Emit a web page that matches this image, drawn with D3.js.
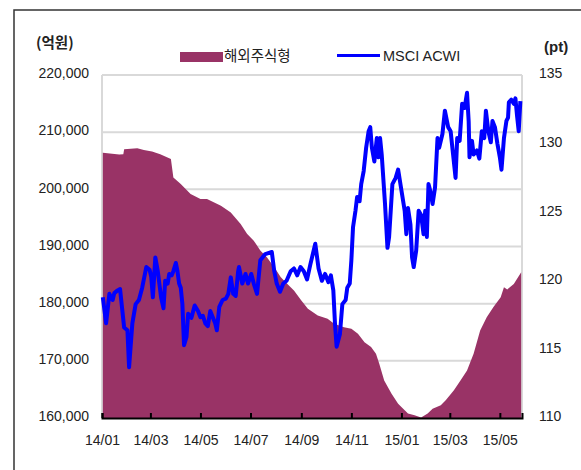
<!DOCTYPE html>
<html><head><meta charset="utf-8">
<script src="https://cdn.jsdelivr.net/npm/d3@7"></script>
<style>
html,body{margin:0;padding:0;background:#fff;}
svg{display:block;}
text{font-family:"Liberation Sans",Arial,sans-serif;fill:#222;}
.kr{font-family:"Noto Sans CJK KR","Liberation Sans",sans-serif;}
</style></head>
<body>
<svg id="chart" width="581" height="470"></svg>
<script>
// ---- data ----
const leftUnit = "(억원)";
const rightUnit = "(pt)";
const seriesNames = ["해외주식형", "MSCI ACWI"];
const xTickLabels = ["14/01","14/03","14/05","14/07","14/09","14/11","15/01","15/03","15/05"];
const leftTicks = [160000,170000,180000,190000,200000,210000,220000];
const rightTicks = [110,115,120,125,130,135];

// 해외주식형 (억원)
const fundSeries = [
["2014-01-02",206400],["2014-01-22",206100],["2014-01-27",206150],["2014-01-28",207030],["2014-02-13",207200],
["2014-02-21",206900],["2014-03-03",206600],["2014-03-13",206150],["2014-03-26",205300],["2014-03-29",202070],
["2014-04-07",200920],["2014-04-19",199170],["2014-05-01",198300],["2014-05-09",198300],["2014-05-26",197130],
["2014-06-07",195960],["2014-06-19",193930],["2014-06-27",192190],["2014-07-05",191020],["2014-07-13",189280],
["2014-07-21",188100],["2014-07-30",186360],["2014-08-07",184610],["2014-08-15",183460],["2014-08-23",182290],
["2014-09-01",180550],["2014-09-09",179100],["2014-09-21",177930],["2014-10-03",177350],["2014-10-11",176480],
["2014-10-23",175890],["2014-11-01",175600],["2014-11-09",174730],["2014-11-17",173270],["2014-11-25",172400],
["2014-12-01",171240],["2014-12-05",169500],["2014-12-11",166580],["2014-12-20",164260],["2014-12-28",162510],
["2015-01-05",161340],["2015-01-09",160770],["2015-01-17",160470],["2015-01-25",160100],["2015-02-02",160770],
["2015-02-08",161640],["2015-02-18",162220],["2015-02-24",163090],["2015-03-06",164840],["2015-03-14",166580],
["2015-03-22",168330],["2015-03-30",171240],["2015-04-07",175310],["2015-04-15",177630],["2015-04-23",179380],
["2015-05-02",181120],["2015-05-06",182870],["2015-05-10",182500],["2015-05-18",183460],["2015-05-27",185490]
];

// MSCI ACWI (pt)
const msciSeries = [
["2014-01-02",118.8],["2014-01-06",116.9],["2014-01-10",119.05],["2014-01-14",118.6],["2014-01-16",119.1],
["2014-01-20",119.3],["2014-01-23",119.4],["2014-01-28",116.6],["2014-02-01",116.4],["2014-02-03",113.7],
["2014-02-07",116.9],["2014-02-11",118.3],["2014-02-15",118.6],["2014-02-19",119.5],["2014-02-24",121.0],
["2014-02-28",120.8],["2014-03-02",120.3],["2014-03-04",118.8],["2014-03-07",121.7],["2014-03-10",120.7],
["2014-03-14",118.8],["2014-03-17",118.0],["2014-03-19",120.0],["2014-03-22",119.8],["2014-03-24",120.5],
["2014-03-27",120.4],["2014-03-29",120.7],["2014-04-01",121.3],["2014-04-03",120.7],["2014-04-05",119.8],
["2014-04-07",119.5],["2014-04-09",118.3],["2014-04-11",115.3],["2014-04-14",115.9],["2014-04-16",117.6],
["2014-04-20",117.3],["2014-04-24",118.2],["2014-04-28",117.8],["2014-05-01",117.35],["2014-05-04",117.45],
["2014-05-07",116.9],["2014-05-10",116.7],["2014-05-13",117.8],["2014-05-16",117.35],["2014-05-19",116.9],
["2014-05-21",116.4],["2014-05-24",118.1],["2014-05-28",118.6],["2014-06-01",118.7],["2014-06-04",119.05],
["2014-06-07",120.25],["2014-06-10",119.05],["2014-06-13",118.9],["2014-06-16",120.7],["2014-06-17",121.0],
["2014-06-21",119.8],["2014-06-25",120.5],["2014-06-28",119.8],["2014-07-02",120.5],["2014-07-05",119.8],
["2014-07-09",119.05],["2014-07-13",121.5],["2014-07-19",121.95],["2014-07-27",122.1],["2014-07-30",120.7],
["2014-08-02",119.8],["2014-08-06",119.2],["2014-08-10",119.8],["2014-08-14",120.0],["2014-08-19",120.7],
["2014-08-23",120.9],["2014-08-27",120.4],["2014-08-31",121.0],["2014-09-04",120.7],["2014-09-08",120.1],
["2014-09-12",121.2],["2014-09-18",122.7],["2014-09-22",120.9],["2014-09-26",120.0],["2014-09-30",120.5],
["2014-10-04",119.9],["2014-10-07",120.4],["2014-10-10",119.3],["2014-10-12",116.9],["2014-10-14",115.2],
["2014-10-18",116.1],["2014-10-21",118.3],["2014-10-25",118.6],["2014-10-27",119.5],["2014-10-30",119.8],
["2014-11-01",121.5],["2014-11-03",123.9],["2014-11-06",125.1],["2014-11-08",126.1],["2014-11-11",125.8],
["2014-11-13",127.05],["2014-11-16",128.0],["2014-11-19",129.7],["2014-11-22",130.9],["2014-11-24",131.2],
["2014-11-26",129.7],["2014-11-29",128.7],["2014-12-02",130.4],["2014-12-04",129.0],["2014-12-06",130.4],
["2014-12-08",129.2],["2014-12-12",125.6],["2014-12-15",122.4],["2014-12-17",123.2],["2014-12-21",127.05],
["2014-12-25",127.5],["2014-12-28",128.1],["2015-01-01",126.6],["2015-01-05",125.1],["2015-01-07",123.4],
["2015-01-09",125.3],["2015-01-12",124.1],["2015-01-14",121.7],["2015-01-16",121.0],["2015-01-19",122.2],
["2015-01-22",125.1],["2015-01-25",124.8],["2015-01-28",123.4],["2015-01-30",125.1],["2015-02-01",123.2],
["2015-02-03",127.05],["2015-02-05",126.6],["2015-02-08",125.6],["2015-02-11",126.8],["2015-02-14",130.4],
["2015-02-16",129.7],["2015-02-20",130.7],["2015-02-23",132.4],["2015-02-27",131.2],["2015-03-02",130.9],
["2015-03-05",129.2],["2015-03-08",127.5],["2015-03-10",130.4],["2015-03-13",130.2],["2015-03-16",132.9],
["2015-03-19",132.6],["2015-03-22",133.7],["2015-03-24",131.6],["2015-03-25",129.0],["2015-03-28",130.2],
["2015-03-30",129.2],["2015-04-03",129.5],["2015-04-06",128.9],["2015-04-09",130.9],["2015-04-12",130.4],
["2015-04-14",132.4],["2015-04-17",130.9],["2015-04-20",130.1],["2015-04-22",131.65],["2015-04-25",131.2],
["2015-04-28",130.0],["2015-05-01",129.0],["2015-05-03",128.1],["2015-05-06",130.4],["2015-05-09",131.65],
["2015-05-11",131.9],["2015-05-12",133.0],["2015-05-15",133.2],["2015-05-18",132.9],["2015-05-20",133.3],
["2015-05-22",132.0],["2015-05-24",130.9],["2015-05-26",133.1]
];

// ---- drawing ----
const parse = d3.timeParse("%Y-%m-%d");
const fund = fundSeries.map(d => ({date: parse(d[0]), v: d[1]}));
const msci = msciSeries.map(d => ({date: parse(d[0]), v: d[1]}));

const svg = d3.select("#chart");
const L = 102, R = 522, T = 75, B = 418;

const x = d3.scaleTime().domain([new Date(2014,0,1), new Date(2015,4,28)]).range([L, R]);
const yL = d3.scaleLinear().domain([160000, 220000]).range([B, T]);
const yR = d3.scaleLinear().domain([110, 135]).range([B, T]);

// outer frame
svg.append("rect").attr("x",14).attr("y",10).attr("width",620).attr("height",520)
  .attr("fill","none").attr("stroke","#333").attr("stroke-width",1.5);

// gridlines
svg.append("g").selectAll("line").data(leftTicks.slice(1)).join("line")
  .attr("x1",L).attr("x2",R).attr("y1",d=>yL(d)).attr("y2",d=>yL(d))
  .attr("stroke","#d9d9d9").attr("stroke-width",2);
// plot border left/right
svg.append("line").attr("x1",L).attr("x2",L).attr("y1",T).attr("y2",B).attr("stroke","#d9d9d9").attr("stroke-width",2);
svg.append("line").attr("x1",R).attr("x2",R).attr("y1",T).attr("y2",B).attr("stroke","#d9d9d9").attr("stroke-width",2);

// area
const area = d3.area().x(d=>x(d.date)).y0(yL(160000)).y1(d=>yL(d.v));
svg.append("path").datum(fund).attr("d",area).attr("fill","#993366");

// line
const line = d3.line().x(d=>x(d.date)).y(d=>yR(d.v)).curve(d3.curveLinear);
svg.append("path").datum(msci).attr("d",line).attr("fill","none")
  .attr("stroke","#0000ff").attr("stroke-width",4).attr("stroke-linejoin","round");

// x axis
const tickDates = xTickLabels.map(s => d3.timeParse("%y/%m")(s));
const xAxis = d3.axisBottom(x).tickValues(tickDates).tickFormat(d3.timeFormat("%y/%m"))
  .tickSize(-5).tickPadding(17);
const gx = svg.append("g").attr("transform",`translate(0,${B})`).call(xAxis);
gx.select(".domain").attr("stroke","#000").attr("stroke-width",2);
gx.selectAll(".tick line").attr("stroke","#000").attr("stroke-width",2);
gx.selectAll("text").attr("font-size",14).attr("fill","#222").attr("font-family","Liberation Sans, Arial, sans-serif");

// left axis
const gl = svg.append("g").attr("transform",`translate(89,0)`)
  .call(d3.axisLeft(yL).tickValues(leftTicks).tickFormat(d3.format(",")).tickSize(0).tickPadding(0));
gl.select(".domain").remove();
gl.selectAll("text").attr("font-size",14).attr("fill","#222").attr("font-family","Liberation Sans, Arial, sans-serif").attr("dy","0.2em");

// right axis
const gr = svg.append("g").attr("transform",`translate(539,0)`)
  .call(d3.axisRight(yR).tickValues(rightTicks).tickSize(0).tickPadding(0));
gr.select(".domain").remove();
gr.selectAll("text").attr("font-size",14).attr("fill","#222").attr("font-family","Liberation Sans, Arial, sans-serif").attr("dy","0.2em");

// units
svg.append("text").attr("class","kr").attr("x",36).attr("y",48).attr("font-size",14.5)
  .attr("font-weight","bold").text(leftUnit);
svg.append("text").attr("x",544).attr("y",52).attr("font-size",15)
  .attr("font-weight","bold").text(rightUnit);

// legend
svg.append("rect").attr("x",180).attr("y",52).attr("width",43).attr("height",10).attr("fill","#993366");
svg.append("text").attr("class","kr").attr("x",224).attr("y",61).attr("font-size",14.5).text(seriesNames[0]);
svg.append("line").attr("x1",337).attr("x2",380).attr("y1",55.5).attr("y2",55.5)
  .attr("stroke","#0000ff").attr("stroke-width",3);
svg.append("text").attr("x",383).attr("y",60.5).attr("font-size",14.5).text(seriesNames[1]);
</script>
</body></html>
